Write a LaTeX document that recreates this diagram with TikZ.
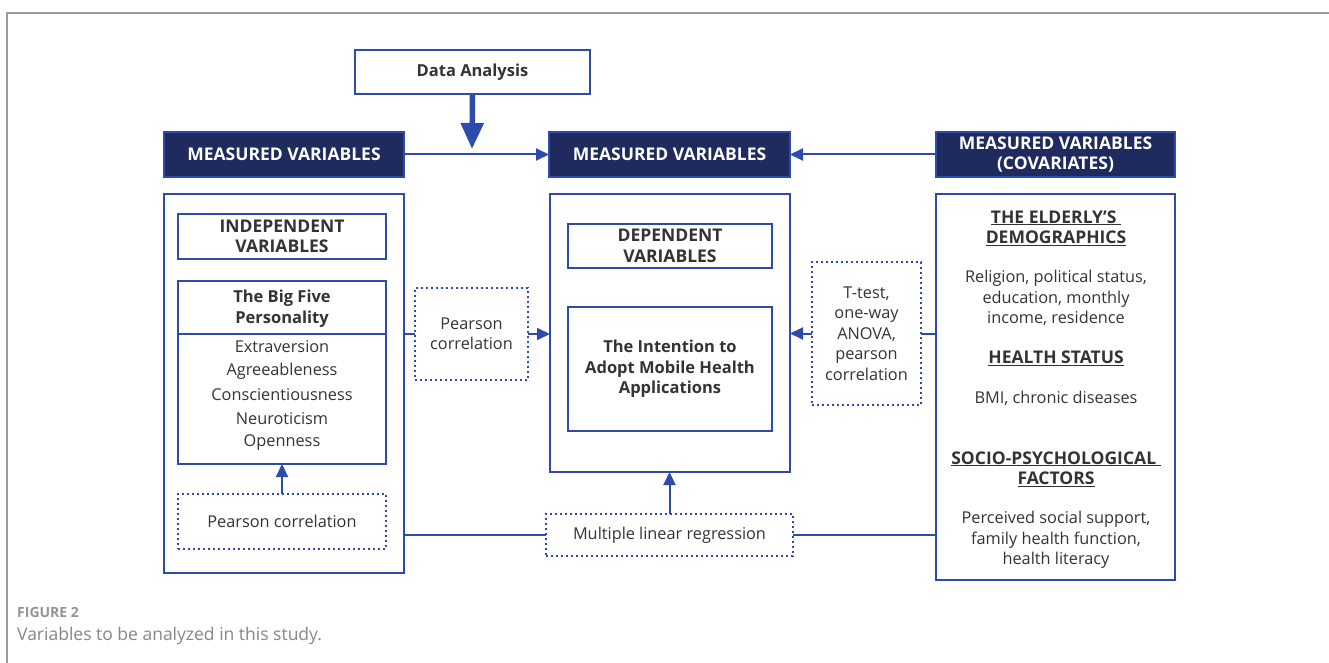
\documentclass[tikz,border=0pt]{standalone}
\usepackage{fontspec}
\setmainfont{Open Sans}
\usetikzlibrary{arrows.meta}
\definecolor{bl}{HTML}{2F4AAD}
\definecolor{navy}{HTML}{1F2A5E}
\definecolor{txt}{HTML}{333333}
\definecolor{frame}{HTML}{9A9A9A}
\newcommand{\fbold}{\fontsize{16.5}{20.5}\selectfont\bfseries}
\newcommand{\fcaps}{\fontsize{17.5}{20.5}\selectfont\bfseries}
\newcommand{\freg}{\fontsize{16.3}{20.5}\selectfont}
\tikzset{
  box/.style={draw=bl, line width=2pt, outer sep=0pt, inner sep=0pt, align=center, text=txt},
  inbox/.style={box, line width=2.6pt},
  darkbox/.style={draw=bl, fill=navy, line width=2pt, outer sep=0pt, inner sep=0pt, align=center, text=white, font=\fcaps},
  dotbox/.style={draw=bl, line width=2.2pt, dash pattern=on 2.2pt off 2.8pt, outer sep=0pt, inner sep=0pt, align=center, text=txt, font=\freg},
  conn/.style={draw=bl, line width=2pt},
  arr/.style={conn, -{Triangle[length=13pt,width=12pt]}},
  bigarr/.style={draw=bl, line width=5.5pt, -{Triangle[length=26pt,width=22pt]}},
  lbl/.style={text=txt, inner sep=0pt, align=center, font=\freg},
  hdr/.style={lbl, font=\fbold},
  chdr/.style={lbl, font=\fcaps},
}
\begin{document}
\begin{tikzpicture}[x=1pt,y=-1pt]
\useasboundingbox (0,0) rectangle (1329,663);
% frame
\draw[frame, line width=1.5pt] (1329,13) -- (7,13) -- (7,663);
% top
\node[box, minimum width=235pt, minimum height=44pt, font=\fbold] (da) at (472.5,72) {Data Analysis};
\node[darkbox, minimum width=240pt, minimum height=45pt] (mvL) at (284,154.5) {MEASURED VARIABLES};
\node[darkbox, minimum width=241pt, minimum height=45pt] (mvM) at (669.5,154.5) {MEASURED VARIABLES};
\node[darkbox, minimum width=239pt, minimum height=45pt] (mvR) at (1055.5,154.5) {MEASURED VARIABLES\\(COVARIATES)};
\coordinate (datip) at (472,149);
% left column
\node[box, minimum width=240pt, minimum height=379pt] (bigL) at (284,383.5) {};
\node[inbox, minimum width=208pt, minimum height=45pt, font=\fcaps] (indep) at (282,236.5) {INDEPENDENT\\VARIABLES};
\node[inbox, minimum width=208pt, minimum height=183pt] (big5) at (282,372.5) {};
\coordinate (divL) at (178,334);
\coordinate (divR) at (386,334);
\draw[conn, line width=2.6pt] (divL) -- (divR);
\node[hdr] (b5h) at (282,308.5) {The Big Five\\Personality};
\node[lbl] (e1) at (282,347) {Extraversion};
\node[lbl] (e2) at (282,371) {Agreeableness};
\node[lbl] (e3) at (282,395) {Conscientiousness};
\node[lbl] (e4) at (282,419) {Neuroticism};
\node[lbl] (e5) at (282,443) {Openness};
\node[dotbox, minimum width=208pt, minimum height=55pt] (pcL) at (282,521.5) {Pearson correlation};
% middle column
\node[box, minimum width=240pt, minimum height=278pt] (bigM) at (670,333) {};
\node[inbox, minimum width=204pt, minimum height=44pt, font=\fcaps] (dep) at (670,246) {DEPENDENT\\VARIABLES};
\node[inbox, minimum width=204pt, minimum height=124pt, font=\fbold] (intent) at (670,369) {The Intention to\\Adopt Mobile Health\\Applications};
\node[dotbox, minimum width=113pt, minimum height=92pt] (pcM) at (471.5,334) {Pearson\\correlation};
\node[dotbox, minimum width=109pt, minimum height=143pt] (tt) at (866.5,333.5) {T-test,\\one-way\\ANOVA,\\pearson\\correlation};
\node[dotbox, minimum width=247pt, minimum height=42pt] (mlr) at (669.5,535) {Multiple linear regression};
% right column
\node[box, minimum width=239pt, minimum height=386pt] (bigR) at (1055.5,387) {};
\node[chdr] (r1) at (1056,228) {\underline{THE ELDERLY'S\ }\\\underline{DEMOGRAPHICS}};
\node[lbl] (r2) at (1056,298) {Religion, political status,\\education, monthly\\income, residence};
\node[chdr] (r3) at (1056,358) {\underline{HEALTH STATUS}};
\node[lbl] (r4) at (1056,398) {BMI, chronic diseases};
\node[chdr] (r5) at (1056,469) {\underline{SOCIO-PSYCHOLOGICAL\ }\\\underline{FACTORS}};
\node[lbl] (r6) at (1056,540) {Perceived social support,\\family health function,\\health literacy};
% connectors
\draw[bigarr] (da.south) -- (datip);
\draw[arr] (mvL.east) -- (mvM.west);
\draw[arr] (mvR.west) -- (mvM.east);
\draw[conn] (bigL.east |- pcM.west) -- (pcM.west);
\draw[arr] (pcM.east) -- (pcM.east -| bigM.west);
\draw[conn] (bigR.west |- tt.east) -- (tt.east);
\draw[arr] (tt.west) -- (tt.west -| bigM.east);
\draw[arr] (pcL.north) -- (big5.south);
\draw[arr] (mlr.north) -- (mlr.north |- bigM.south);
\draw[conn] (bigL.east |- mlr.west) -- (mlr.west);
\draw[conn] (mlr.east) -- (mlr.east -| bigR.west);
% caption
\node[anchor=base west, inner sep=0pt, text=gray!85, font=\fontsize{14}{16}\selectfont\bfseries] (cap1) at (17,617) {FIGURE 2};
\node[anchor=base west, inner sep=0pt, text=gray!95, font=\fontsize{17.5}{20}\selectfont] (cap2) at (17,640) {Variables to be analyzed in this study.};
\end{tikzpicture}
\end{document}
